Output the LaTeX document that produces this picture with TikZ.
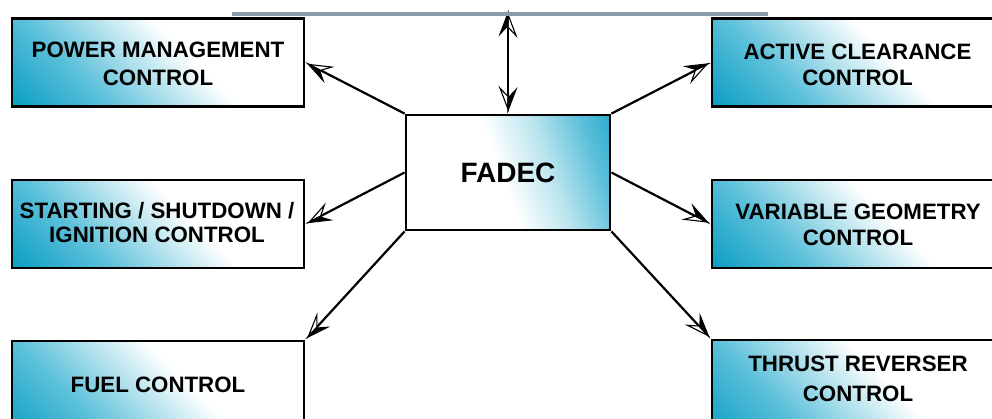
\documentclass[tikz,border=0pt]{standalone}
\usepackage{fontspec}
\setmainfont{Liberation Sans}
\usetikzlibrary{arrows.meta}
\definecolor{fc0}{RGB}{12,158,196}
\definecolor{fc1}{RGB}{92,192,218}
\definecolor{fc2}{RGB}{188,229,239}
\definecolor{busgray}{RGB}{138,155,170}
\pgfdeclarehorizontalshading{sideshade}{100bp}{color(0bp)=(fc0); color(15bp)=(fc0); color(33bp)=(fc1); color(47bp)=(fc2); color(57bp)=(white); color(100bp)=(white)}
\pgfdeclarehorizontalshading{fadecshade}{100bp}{color(0bp)=(white); color(48bp)=(white); color(61bp)=(fc2); color(74bp)=(fc1); color(87bp)=(fc0); color(100bp)=(fc0)}
\tikzset{
  hhead/.tip={Stealth[harpoon,swap,open,fill=white,length=25pt,width=19pt,inset=10pt,line width=1.1pt,sep=-25pt]Stealth[harpoon,length=25pt,width=19pt,inset=10pt,line width=1.1pt]},
  conn/.style={line width=2.2pt,-hhead},
  dconn/.style={line width=2.2pt,hhead-hhead},
  box/.style={draw,line width=2.8pt,inner sep=0pt,minimum width=292pt,minimum height=88pt,shade,shading=sideshade,shading angle=45},
  fadecbox/.style={draw,line width=2.8pt,inner sep=0pt,minimum width=204pt,minimum height=115pt,shade,shading=fadecshade,shading angle=20},
  btext/.style={align=center,inner sep=0pt,font=\bfseries\fontsize{22.3}{26}\selectfont},
  bus/.style={line width=4pt,draw=busgray}
}
\begin{document}
\begin{tikzpicture}[x=1pt,y=-1pt]
\useasboundingbox (0,0) rectangle (992,419);
\clip (0,0) rectangle (992,419);
% boxes
\node[box] (pmc) at (158,62.5) {};
\node[box] (ssi) at (158,224) {};
\node[box,minimum height=100pt] (fuel) at (158,391) {};
\node[box] (acc) at (858,62.5) {};
\node[box] (vg) at (858,224) {};
\node[box,minimum height=100pt] (tr) at (858,390) {};
\node[fadecbox] (fadec) at (508,172.5) {};
% texts
\node[btext,font=\bfseries\fontsize{22.3}{28}\selectfont] (pmct) at (158,64) {POWER MANAGEMENT\\CONTROL};
\node[btext,font=\bfseries\fontsize{22.3}{24}\selectfont] (ssit) at (157,223) {STARTING / SHUTDOWN /\\IGNITION CONTROL};
\node[btext] (fuelt) at (158,385) {FUEL CONTROL};
\node[btext] (acct) at (857.5,65) {ACTIVE CLEARANCE\\CONTROL};
\node[btext] (vgt) at (858,225) {VARIABLE GEOMETRY\\CONTROL};
\node[btext,font=\bfseries\fontsize{22.3}{30}\selectfont] (trt) at (858,379) {THRUST REVERSER\\CONTROL};
\node[inner sep=0pt,font=\bfseries\fontsize{28}{32}\selectfont] (fadect) at (508,173) {FADEC};
% bus
\coordinate (busL) at (232,14);
\coordinate (busR) at (768,14);
\coordinate (busC) at (508,10);
% connectors
\draw[dconn] (fadec.north) -- (busC);
\draw[bus] (busL) -- (busR);
\draw[conn] (fadec.north west) -- (pmc.east);
\draw[conn] (fadec.west) -- (ssi.east);
\draw[conn] (fadec.south west) -- (fuel.north east);
\draw[conn] (fadec.north east) -- (acc.west);
\draw[conn] (fadec.east) -- (vg.west);
\draw[conn] (fadec.south east) -- (tr.north west);
\end{tikzpicture}
\end{document}
